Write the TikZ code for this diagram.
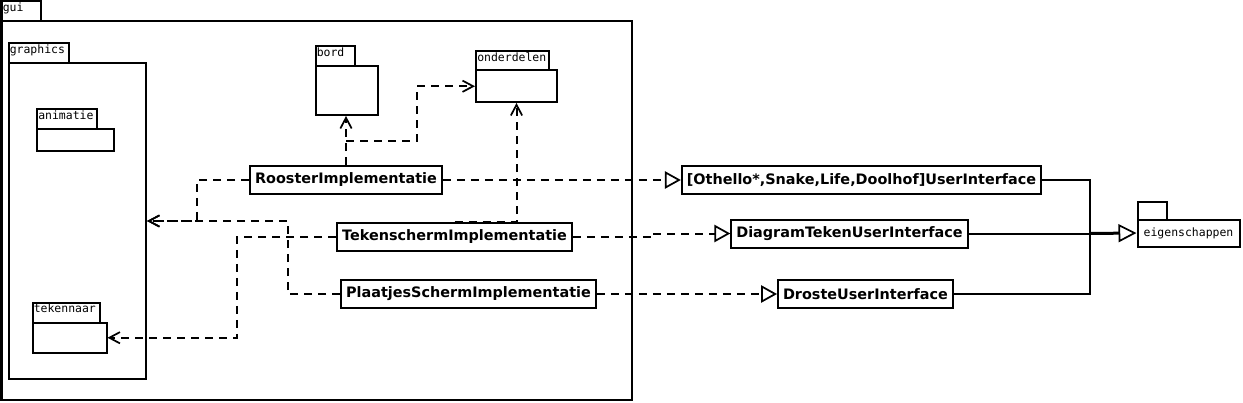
\documentclass[tikz,border=0pt]{standalone}
\usepackage{fontspec}
\setmainfont{DejaVu Sans}
\newfontfamily\tabfont{DejaVu Sans Mono}
\usetikzlibrary{arrows.meta,fit,positioning}

\tikzset{
  pkgbox/.style={draw, line width=1.5pt, inner sep=0pt},
  tabtext/.style={anchor=north west, inner sep=1.5pt, font=\tabfont\fontsize{8.6}{10}\selectfont},
  cls/.style={draw, line width=1.5pt, inner xsep=3.75pt, inner ysep=0pt, minimum height=21pt, font=\bfseries\fontsize{10.8}{13}\selectfont},
  dep/.style={line width=1.5pt, dash pattern=on 6pt off 4.5pt, -{Straight Barb[length=8pt,width=8.5pt,line width=1.3pt]}},
  real/.style={line width=1.5pt, dash pattern=on 6pt off 4.5pt, -{Triangle[open,length=12pt,width=13pt,line width=1.3pt,fill=white]}},
  assoc/.style={line width=1.5pt}
}

\begin{document}
\begin{tikzpicture}[x=0.75pt,y=-0.75pt]
\useasboundingbox (0,0) rectangle (1243,403);

%draw packages
\node[pkgbox, fit={(1.5,1.5) (40.5,21)}] (guitab) {};
\node[pkgbox, fit={(1.5,21) (632,400)}] (gui) {};
\node[tabtext] (guilabel) at (guitab.north west) {gui};

\node[pkgbox, fit={(8.5,43.5) (69,63.5)}] (graphicstab) {};
\node[pkgbox, fit={(8.5,63.5) (146,378.5)}] (graphics) {};
\node[tabtext] (graphicslabel) at (graphicstab.north west) {graphics};

\node[pkgbox, fit={(37,109.5) (96.5,129.5)}] (animatietab) {};
\node[pkgbox, fit={(37,129.5) (114,151)}] (animatie) {};
\node[tabtext] (animatielabel) at (animatietab.north west) {animatie};

\node[pkgbox, fit={(32.5,303) (99.5,323)}] (tekennaartab) {};
\node[pkgbox, fit={(32.5,323) (106.5,352.5)}] (tekennaar) {};
\node[tabtext] (tekennaarlabel) at (tekennaartab.north west) {tekennaar};

\node[pkgbox, fit={(315.5,46.5) (355,66.5)}] (bordtab) {};
\node[pkgbox, fit={(315.5,66.5) (378,115)}] (bord) {};
\node[tabtext] (bordlabel) at (bordtab.north west) {bord};

\node[pkgbox, fit={(476,51) (549,70.5)}] (onderdelentab) {};
\node[pkgbox, fit={(476,70.5) (557,102)}] (onderdelen) {};
\node[tabtext] (onderdelenlabel) at (onderdelentab.north west) {onderdelen};

\node[pkgbox, fit={(1137.5,201.5) (1167,219.5)}] (eigentab) {};
\node[pkgbox, fit={(1137.5,219.5) (1239.5,246.5)}] (eigen) {};
\node[tabtext, anchor=center] (eigenlabel) at (eigen.center) {eigenschappen};

%draw classes
\node[cls] (rooster) at (346,180) {RoosterImplementatie};
\node[cls] (teken) at (454.5,237) {TekenschermImplementatie};
\node[cls] (plaatjes) at (468.5,294) {PlaatjesSchermImplementatie};
\node[cls] (othello) at (861.5,180) {[Othello*,Snake,Life,Doolhof]UserInterface};
\node[cls] (diagram) at (849.5,233.5) {DiagramTekenUserInterface};
\node[cls] (droste) at (865.5,294) {DrosteUserInterface};

%bends
\coordinate (rbend) at (346,141);
\coordinate (rjog) at (417,141);
\coordinate (rgx) at (197,180);
\coordinate (pgx) at (288,294);
\coordinate (tgx) at (237,237);
\coordinate (tjog) at (651,237);
\coordinate (ijoin) at (1090,233.5);

%draw dependencies
\draw[dep] (rooster.north) -- (rooster.north |- bord.south);
\draw[dep] (rbend) -- (rjog) |- (onderdelen.west);
\draw[dep] (rooster.west) -- (rgx) |- (graphics.east);
\draw[dep] (plaatjes.west) -- (pgx) |- (graphics.east);
\draw[dep] (teken.west) -- (tgx) |- (tekennaar.east);
\draw[dep] (teken.north) -- (teken.north -| onderdelen.south) -- (onderdelen.south);

%draw realizations
\draw[real] (rooster.east) -- (othello.west);
\draw[real] (teken.east) -- (tjog) |- (diagram.west);
\draw[real] (plaatjes.east) -- (droste.west);

%draw interface lines
\draw[assoc] (othello.east) -| (ijoin);
\draw[assoc] (droste.east) -| (ijoin);
\draw[assoc] (diagram.east) -- (ijoin);
\draw[assoc, line width=2.25pt, -{Triangle[open,length=13.5pt,width=13.5pt,line width=1.3pt,fill=white]}] (ijoin) -- (eigen.west);
\end{tikzpicture}
\end{document}
